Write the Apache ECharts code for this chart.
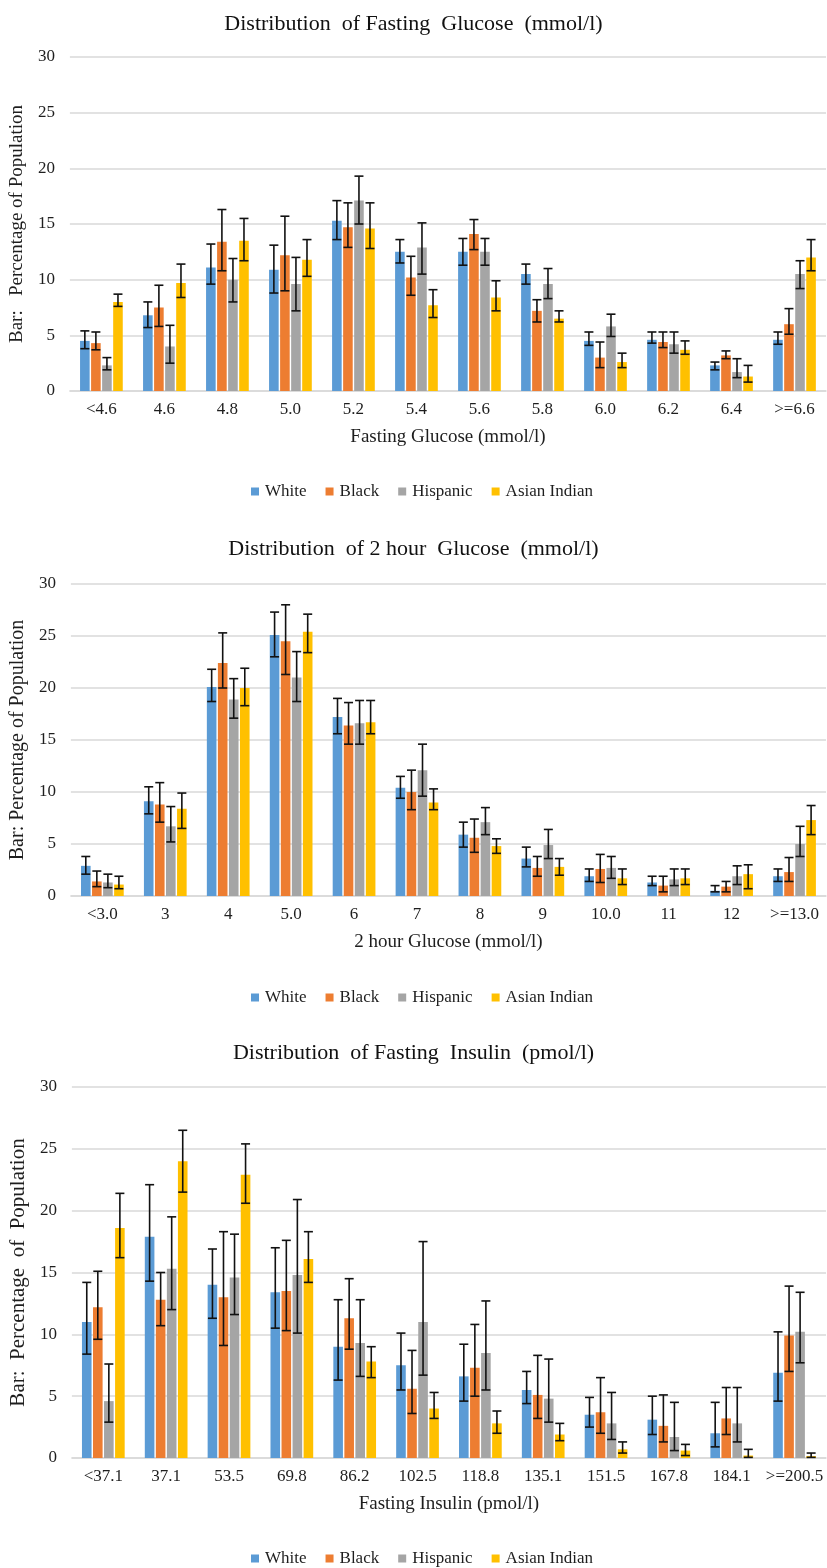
<!DOCTYPE html>
<html><head><meta charset="utf-8">
<script src="https://cdn.jsdelivr.net/npm/echarts@6/dist/echarts.min.js"></script>
<style>html,body{margin:0;padding:0;background:#fff}#c{width:827px;height:1568px}</style>
</head><body><div id="c"></div><script>
// ---------- DATA ----------
const raceNames = ['White', 'Black', 'Hispanic', 'Asian Indian'];

// Panel 1: Fasting Glucose
const fgCategories = ['<4.6','4.6','4.8','5.0','5.2','5.4','5.6','5.8','6.0','6.2','6.4','>=6.6'];
const fgWhite    = [4.5, 6.8, 11.1, 10.9, 15.3, 12.5, 12.5, 10.5, 4.5, 4.6, 2.3, 4.6];
const fgWhiteLo  = [3.8, 5.7, 9.6, 8.8, 13.6, 11.5, 11.3, 9.6, 4.1, 4.3, 1.9, 4.2];
const fgWhiteHi  = [5.4, 8.0, 13.2, 13.1, 17.1, 13.6, 13.7, 11.4, 5.3, 5.3, 2.6, 5.3];
const fgBlack    = [4.3, 7.5, 13.4, 12.2, 14.7, 10.2, 14.1, 7.2, 3.0, 4.4, 3.2, 6.0];
const fgBlackLo  = [3.7, 5.8, 10.8, 9.0, 12.9, 8.6, 12.7, 6.2, 2.1, 3.9, 2.9, 5.1];
const fgBlackHi  = [5.3, 9.5, 16.3, 15.7, 16.9, 12.1, 15.4, 8.2, 4.4, 5.3, 3.6, 7.4];
const fgHisp     = [2.3, 4.0, 10.0, 9.6, 17.1, 12.9, 12.5, 9.6, 5.8, 4.2, 1.7, 10.5];
const fgHispLo   = [1.9, 2.5, 8.0, 7.2, 15.0, 10.5, 11.3, 8.3, 4.9, 3.4, 1.2, 9.2];
const fgHispHi   = [3.0, 5.9, 11.9, 12.0, 19.3, 15.1, 13.7, 11.0, 6.9, 5.3, 2.9, 11.7];
const fgAsian    = [8.0, 9.7, 13.5, 11.8, 14.6, 7.7, 8.4, 6.5, 2.6, 3.7, 1.3, 12.0];
const fgAsianLo  = [7.6, 8.4, 11.7, 10.3, 12.8, 6.6, 7.2, 6.2, 2.1, 3.3, 0.8, 10.8];
const fgAsianHi  = [8.7, 11.4, 15.5, 13.6, 16.9, 9.1, 9.9, 7.2, 3.4, 4.5, 2.3, 13.6];

// Panel 2: 2 hour Glucose
const ghCategories = ['<3.0','3','4','5.0','6','7','8','9','10.0','11','12','>=13.0'];
const ghWhite    = [2.9, 9.1, 20.1, 25.1, 17.2, 10.4, 5.9, 3.6, 1.9, 1.3, 0.5, 1.9];
const ghWhiteLo  = [2.1, 7.9, 18.7, 23.0, 15.6, 9.4, 4.7, 2.8, 1.4, 1.0, 0.4, 1.4];
const ghWhiteHi  = [3.8, 10.5, 21.8, 27.3, 19.0, 11.5, 7.1, 4.7, 2.6, 1.9, 1.0, 2.6];
const ghBlack    = [1.4, 8.8, 22.4, 24.5, 16.4, 10.0, 5.6, 2.7, 2.6, 1.0, 0.9, 2.3];
const ghBlackLo  = [0.9, 7.1, 20.0, 21.3, 14.6, 8.3, 4.2, 1.9, 1.3, 0.4, 0.4, 1.4];
const ghBlackHi  = [2.4, 10.9, 25.3, 28.0, 18.6, 12.1, 7.4, 3.8, 4.0, 1.9, 1.4, 3.7];
const ghHisp     = [1.3, 6.7, 18.9, 21.0, 16.6, 12.1, 7.1, 4.9, 2.7, 1.6, 1.9, 5.0];
const ghHispLo   = [0.8, 5.2, 17.1, 18.7, 14.6, 9.6, 5.9, 3.6, 1.7, 1.0, 1.1, 3.8];
const ghHispHi   = [2.1, 8.6, 20.9, 23.5, 18.8, 14.6, 8.5, 6.4, 3.8, 2.6, 2.9, 6.7];
const ghAsian    = [1.1, 8.4, 20.0, 25.4, 16.7, 9.0, 4.8, 2.8, 1.7, 1.7, 2.1, 7.3];
const ghAsianLo  = [0.7, 6.5, 18.3, 23.4, 15.6, 8.3, 4.1, 2.0, 1.1, 1.1, 0.7, 5.9];
const ghAsianHi  = [1.9, 9.9, 21.9, 27.1, 18.8, 10.3, 5.5, 3.6, 2.6, 2.6, 3.0, 8.7];

// Panel 3: Fasting Insulin
const fiCategories = ['<37.1','37.1','53.5','69.8','86.2','102.5','118.8','135.1','151.5','167.8','184.1','>=200.5'];
const fiWhite    = [11.0, 17.9, 14.0, 13.4, 9.0, 7.5, 6.6, 5.5, 3.5, 3.1, 2.0, 6.9];
const fiWhiteLo  = [8.4, 14.3, 11.3, 10.5, 6.3, 5.5, 4.6, 4.4, 2.5, 1.9, 0.9, 4.6];
const fiWhiteHi  = [14.2, 22.1, 16.9, 17.0, 12.8, 10.1, 9.2, 7.0, 4.9, 5.0, 4.5, 10.2];
const fiBlack    = [12.2, 12.8, 13.0, 13.5, 11.3, 5.6, 7.3, 5.1, 3.7, 2.6, 3.2, 9.9];
const fiBlackLo  = [9.6, 10.7, 9.1, 10.3, 8.8, 3.6, 5.0, 3.2, 2.0, 1.3, 1.9, 7.0];
const fiBlackHi  = [15.1, 15.0, 18.3, 17.6, 14.5, 8.7, 10.8, 8.3, 6.5, 5.1, 5.7, 13.9];
const fiHisp     = [4.6, 15.3, 14.6, 14.8, 9.3, 11.0, 8.5, 4.8, 2.8, 1.7, 2.8, 10.2];
const fiHispLo   = [2.9, 12.0, 11.6, 10.1, 6.6, 6.7, 5.5, 2.9, 1.5, 0.6, 1.3, 7.7];
const fiHispHi   = [7.6, 19.5, 18.1, 20.9, 12.8, 17.5, 12.7, 8.0, 5.3, 4.5, 5.7, 13.4];
const fiAsian    = [18.6, 24.0, 22.9, 16.1, 7.8, 4.0, 2.8, 1.9, 0.7, 0.6, 0.2, 0.15];
const fiAsianLo  = [16.2, 21.5, 20.6, 14.2, 6.5, 3.2, 2.0, 1.4, 0.4, 0.2, 0.05, 0.05];
const fiAsianHi  = [21.4, 26.5, 25.4, 18.3, 9.0, 5.3, 3.8, 2.8, 1.3, 1.1, 0.7, 0.4];

const yTicks = [0, 5, 10, 15, 20, 25, 30];

// ---------- BUILD ----------
const colors = ['#5B9BD5', '#ED7D31', '#A5A5A5', '#FFC000'];
const FONT = '"Liberation Serif", "Times New Roman", serif';
const TXT = '#1e1e1e';
const BW = 9.6, GAP = 0.15;
const panels = [
  { title: 'Distribution  of Fasting  Glucose  (mmol/l)', xName: 'Fasting Glucose (mmol/l)',
    yName: 'Bar:   Percentage of Population', yNameSize: 19, cats: fgCategories,
    data: [[fgWhite,fgWhiteLo,fgWhiteHi],[fgBlack,fgBlackLo,fgBlackHi],[fgHisp,fgHispLo,fgHispHi],[fgAsian,fgAsianLo,fgAsianHi]],
    titleTop: 8, left: 69, top: 57, height: 334, legendTop: 478 },
  { title: 'Distribution  of 2 hour  Glucose  (mmol/l)', xName: '2 hour Glucose (mmol/l)',
    yName: 'Bar: Percentage of Population', yNameSize: 20, cats: ghCategories,
    data: [[ghWhite,ghWhiteLo,ghWhiteHi],[ghBlack,ghBlackLo,ghBlackHi],[ghHisp,ghHispLo,ghHispHi],[ghAsian,ghAsianLo,ghAsianHi]],
    titleTop: 533, left: 65, top: 584, height: 312, legendTop: 984 },
  { title: 'Distribution  of Fasting  Insulin  (pmol/l)', xName: 'Fasting Insulin (pmol/l)',
    yName: 'Bar:  Percentage  of  Population', yNameSize: 21, cats: fiCategories,
    data: [[fiWhite,fiWhiteLo,fiWhiteHi],[fiBlack,fiBlackLo,fiBlackHi],[fiHisp,fiHispLo,fiHispHi],[fiAsian,fiAsianLo,fiAsianHi]],
    titleTop: 1037, left: 69, top: 1087, height: 371, legendTop: 1545 }
];

const option = { animation: false, backgroundColor: '#fff', title: [], grid: [], xAxis: [], yAxis: [], legend: [], series: [] };
const total = 4 * BW + 3 * BW * GAP;

panels.forEach((p, pi) => {
  option.title.push({ text: p.title, left: 'center', top: p.titleTop,
    textStyle: { fontFamily: FONT, fontSize: 22, fontWeight: 'normal', color: '#111' } });
  option.grid.push({ left: p.left, right: 1, top: p.top, height: p.height, containLabel: false });
  option.xAxis.push({ type: 'category', gridIndex: pi, data: p.cats,
    axisLine: { lineStyle: { color: '#d9d9d9', width: 1.5 } }, axisTick: { show: false },
    axisLabel: { fontFamily: FONT, fontSize: 17, color: TXT, margin: 10, interval: 0 },
    name: p.xName, nameLocation: 'middle', nameGap: 37,
    nameTextStyle: { fontFamily: FONT, fontSize: 19, color: TXT } });
  option.yAxis.push({ type: 'value', gridIndex: pi, min: 0, max: 30, interval: 5,
    axisLine: { show: false }, axisTick: { show: false },
    axisLabel: { fontFamily: FONT, fontSize: 17, color: TXT, margin: 15,
      formatter: v => yTicks.indexOf(v) >= 0 ? String(v) : '' },
    splitLine: { lineStyle: { color: '#d9d9d9', width: 1.5 } },
    name: p.yName, nameLocation: 'middle', nameGap: 39,
    nameTextStyle: { fontFamily: FONT, fontSize: p.yNameSize, color: TXT } });
  option.legend.push({ top: p.legendTop, left: 246, data: raceNames,
    icon: 'rect', itemWidth: 8, itemHeight: 8, itemGap: 19,
    textStyle: { fontFamily: FONT, fontSize: 17, color: TXT, padding: [0, 0, 0, 1] } });

  p.data.forEach((d, ri) => {
    option.series.push({ type: 'bar', name: raceNames[ri], xAxisIndex: pi, yAxisIndex: pi,
      data: d[0], barWidth: BW, barGap: (GAP * 100) + '%',
      itemStyle: { color: colors[ri] }, z: 2 });
  });
  p.data.forEach((d, ri) => {
    const off = -total / 2 + BW / 2 + ri * (BW * (1 + GAP));
    option.series.push({ type: 'custom', name: raceNames[ri] + ' error', xAxisIndex: pi, yAxisIndex: pi,
      data: d[1].map((lo, i) => [i, lo, d[2][i]]), z: 10, silent: true,
      encode: { x: 0, y: [1, 2] },
      renderItem: (params, api) => {
        const c = api.value(0);
        const a = api.coord([c, api.value(1)]);
        const b = api.coord([c, api.value(2)]);
        const x = a[0] + off, hw = 4.5;
        const st = { stroke: '#111', lineWidth: 1.6 };
        return { type: 'group', children: [
          { type: 'line', shape: { x1: x, y1: a[1], x2: x, y2: b[1] }, style: st },
          { type: 'line', shape: { x1: x - hw, y1: a[1], x2: x + hw, y2: a[1] }, style: st },
          { type: 'line', shape: { x1: x - hw, y1: b[1], x2: x + hw, y2: b[1] }, style: st }
        ] };
      } });
  });
});

const chart = echarts.init(document.getElementById('c'), null, { renderer: 'canvas' });
chart.setOption(option);
</script></body></html>
